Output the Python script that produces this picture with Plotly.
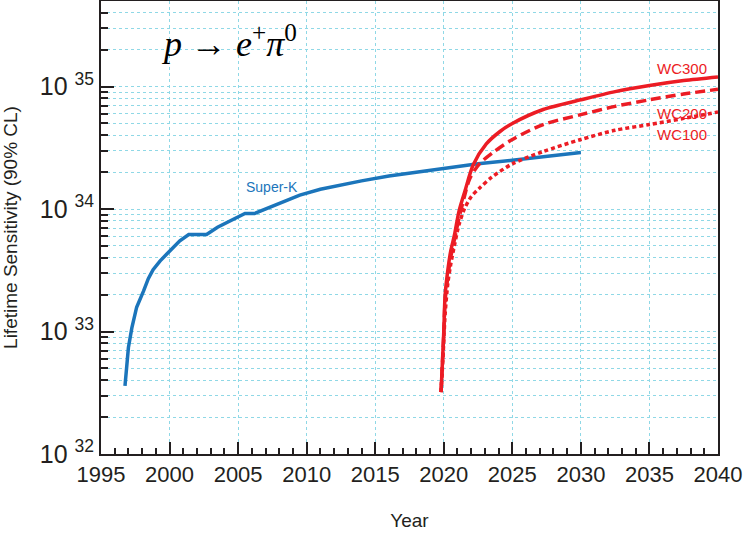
import plotly.graph_objects as go

# Super-K sensitivity (years, lifetime in years)
sk_years = [1996.75, 1997.0, 1997.25, 1997.6, 1998.1, 1998.45, 1998.8, 1999.3, 1999.8, 2000.3,
            2000.75, 2001.4, 2002.7, 2003.5, 2004.5, 2005.5, 2006.2, 2007.0, 2008.0, 2009.5,
            2011.0, 2012.5, 2014.0, 2016.0, 2018.0, 2020.0, 2022.5, 2025.0, 2027.5, 2030.0]
sk_life = [3.6e32, 7.4e32, 1.07e33, 1.58e33, 2.14e33, 2.7e33, 3.2e33, 3.76e33, 4.3e33, 4.9e33,
           5.5e33, 6.2e33, 6.2e33, 7.1e33, 8.1e33, 9.2e33, 9.2e33, 1.0e34, 1.1e34, 1.3e34,
           1.45e34, 1.58e34, 1.7e34, 1.86e34, 2.0e34, 2.14e34, 2.34e34, 2.5e34, 2.7e34, 2.9e34]

# WC detector projections
wc300_years = [2019.8, 2019.9, 2020.0, 2020.1, 2020.3, 2020.5, 2020.8, 2021.1, 2021.55,
               2022.15, 2023.1, 2024.1, 2025.0, 2027.25, 2030.0, 2032.5, 2035.0, 2037.5, 2040.0]
wc300_life = [3.2e32, 5.6e32, 1.0e33, 2.0e33, 3.2e33, 4.5e33, 6.3e33, 9.5e33, 1.41e34,
              2.3e34, 3.4e34, 4.3e34, 5.0e34, 6.5e34, 7.8e34, 9.1e34, 1.02e35, 1.12e35, 1.2e35]

wc200_years = [2019.8, 2019.9, 2020.0, 2020.1, 2020.3, 2020.5, 2020.8, 2021.1, 2021.5,
               2021.9, 2022.6, 2023.6, 2025.0, 2027.25, 2030.0, 2032.5, 2035.0, 2037.5, 2040.0]
wc200_life = [3.2e32, 5.5e32, 9.5e32, 1.8e33, 2.8e33, 4.0e33, 5.8e33, 8.3e33, 1.26e34,
              1.78e34, 2.34e34, 2.9e34, 3.7e34, 4.9e34, 5.9e34, 6.9e34, 7.8e34, 8.7e34, 9.5e34]

wc100_years = [2019.8, 2019.9, 2020.0, 2020.1, 2020.3, 2020.5, 2020.8, 2021.1, 2021.5,
               2022.0, 2022.6, 2023.5, 2025.0, 2027.25, 2030.0, 2032.5, 2035.0, 2037.5, 2040.0]
wc100_life = [3.2e32, 5.0e32, 8.3e32, 1.4e33, 2.5e33, 3.5e33, 5.2e33, 7.4e33, 1.0e34,
              1.26e34, 1.48e34, 1.82e34, 2.34e34, 2.95e34, 3.7e34, 4.4e34, 4.9e34, 5.5e34, 6.2e34]

decades = [1e32, 1e33, 1e34, 1e35]
decade_labels = ["10 <sup>32</sup>", "10 <sup>33</sup>", "10 <sup>34</sup>", "10 <sup>35</sup>"]
minor_vals = [k * d for d in decades for k in range(2, 10) if k * d <= 5e35]

blue = "#1b75bb"
red = "#ec1c24"
grid = "#8fd8e6"
ink = "#231f20"

fig = go.Figure()

fig.add_trace(go.Scatter(x=sk_years, y=sk_life, mode="lines", name="Super-K",
                         line=dict(color=blue, width=3.5)))
fig.add_trace(go.Scatter(x=wc100_years, y=wc100_life, mode="lines", name="WC100",
                         line=dict(color=red, width=3.5, dash="4px,3px", shape="spline", smoothing=0.8)))
fig.add_trace(go.Scatter(x=wc200_years, y=wc200_life, mode="lines", name="WC200",
                         line=dict(color=red, width=3.5, dash="10px,5px", shape="spline", smoothing=0.8)))
fig.add_trace(go.Scatter(x=wc300_years, y=wc300_life, mode="lines", name="WC300",
                         line=dict(color=red, width=3.5, shape="spline", smoothing=0.8)))

fig.add_annotation(x=2007.5, y=34.18, text="Super-K", showarrow=False,
                   font=dict(color=blue, size=14))
fig.add_annotation(x=2037.4, y=35.15, text="WC300", showarrow=False,
                   font=dict(color=red, size=15))
fig.add_annotation(x=2037.4, y=34.78, text="WC200", showarrow=False,
                   font=dict(color=red, size=15))
fig.add_annotation(x=2037.4, y=34.61, text="WC100", showarrow=False,
                   font=dict(color=red, size=15))
fig.add_annotation(x=2004.3, y=35.37, showarrow=False,
                   text="<i>p</i> → <i>e</i><sup>+</sup><i>π</i><sup>0</sup>",
                   font=dict(family="Liberation Serif", size=36, color="black"))

fig.update_xaxes(
    range=[1995, 2040], dtick=5, tick0=1995, automargin=False,
    showline=True, linecolor=ink, linewidth=2, mirror=True,
    ticks="inside", ticklen=12, tickwidth=2, tickcolor=ink,
    showgrid=True, gridcolor=grid, griddash="dot", gridwidth=1,
    minor=dict(dtick=1, ticks="inside", ticklen=6, tickwidth=1.5, tickcolor=ink, showgrid=False),
    tickfont=dict(size=22, color=ink),
    title=dict(text="Year", font=dict(size=19, color=ink), standoff=27),
    zeroline=False,
)
fig.update_yaxes(
    type="log", range=[32, 35.699], automargin=False,
    tickvals=decades, ticktext=decade_labels,
    showline=True, linecolor=ink, linewidth=2, mirror=True,
    ticks="inside", ticklen=13, tickwidth=2, tickcolor=ink,
    showgrid=True, gridcolor=grid, griddash="dot", gridwidth=1,
    minor=dict(tickvals=minor_vals, ticks="inside", ticklen=7, tickwidth=1.5, tickcolor=ink,
               showgrid=True, gridcolor=grid, griddash="dot", gridwidth=1),
    tickfont=dict(size=25, color=ink),
    title=dict(text="Lifetime Sensitivity (90% CL)", font=dict(size=19, color=ink), standoff=17),
    zeroline=False,
)

fig.update_layout(
    width=747, height=539,
    margin=dict(l=101, r=29, t=1, b=85),
    paper_bgcolor="white", plot_bgcolor="white",
    font=dict(family="Liberation Sans", color=ink),
    showlegend=False,
)

fig.write_html("out.html", config={"displayModeBar": False},
               post_script="document.body.style.margin = '0';")
